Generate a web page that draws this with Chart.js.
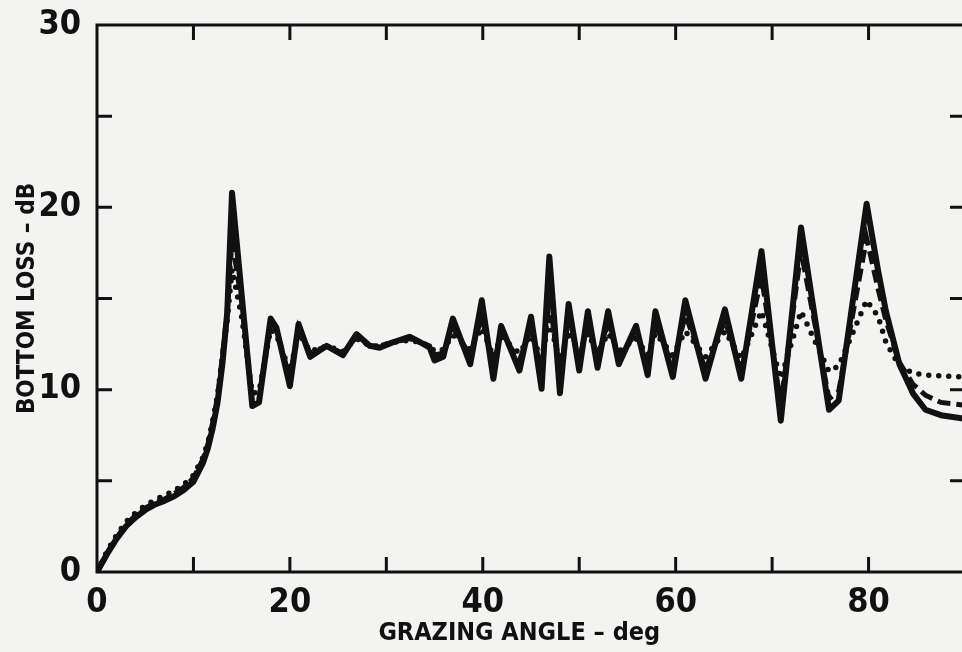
<!DOCTYPE html>
<html>
<head>
<meta charset="utf-8">
<script src="https://cdn.jsdelivr.net/npm/chart.js@4/dist/chart.umd.min.js"></script>
<style>
html,body{margin:0;padding:0;overflow:hidden;background:#f3f3f1;}
#wrap{position:absolute;left:0;top:0;width:980px;height:652px;}
</style>
</head>
<body>
<div id="wrap"><canvas id="c" width="980" height="652"></canvas></div>
<script>
// Grazing angle (deg) sample points shared by the three curves
const angle = [0, 1, 2, 3, 4, 5, 6, 7, 8, 9, 10, 11, 11.5, 12, 12.5, 13, 13.5, 14, 15, 16.1, 16.8, 18, 18.6, 20, 20.9, 22.1, 23.8, 25.5, 26.9, 28.3, 29.3, 30.7, 32.4, 33.5, 34.5, 35.0, 35.9, 36.9, 38.7, 39.9, 41.1, 41.9, 43.8, 45.0, 46.1, 46.9, 48.0, 48.9, 50.0, 50.9, 51.9, 53.0, 54.1, 55.9, 57.1, 57.9, 59.7, 61.0, 63.1, 65.1, 66.8, 68.9, 70.9, 73.0, 75.9, 76.9, 79.8, 81.0, 81.8, 83.2, 84.6, 85.9, 87.5, 90];

// Bottom loss (dB) - solid curve
const lossSolid = [0, 0.95, 1.8, 2.5, 3.0, 3.4, 3.7, 3.9, 4.15, 4.5, 4.95, 6.0, 6.8, 7.9, 9.3, 11.4, 14.2, 20.8, 15.2, 9.1, 9.3, 13.9, 13.4, 10.2, 13.6, 11.8, 12.4, 11.9, 13.05, 12.4, 12.3, 12.6, 12.9, 12.6, 12.3, 11.6, 11.8, 13.9, 11.4, 14.9, 10.6, 13.5, 11.05, 14.0, 10.05, 17.3, 9.8, 14.7, 11.05, 14.3, 11.2, 14.3, 11.4, 13.5, 10.8, 14.3, 10.7, 14.9, 10.6, 14.4, 10.6, 17.6, 8.3, 18.9, 8.9, 9.4, 20.2, 16.5, 14.3, 11.4, 9.8, 8.9, 8.6, 8.4];

// Bottom loss (dB) - dashed curve
const lossDashed = [0, 1.0, 1.85, 2.6, 3.1, 3.5, 3.8, 4.0, 4.3, 4.65, 5.15, 6.2, 7.0, 8.2, 9.6, 11.8, 14.3, 18.2, 14.8, 9.3, 9.5, 13.7, 13.3, 10.6, 13.4, 12.0, 12.4, 12.0, 12.9, 12.4, 12.4, 12.6, 12.8, 12.6, 12.4, 11.9, 12.0, 13.4, 11.9, 14.0, 11.3, 13.1, 11.6, 13.4, 11.0, 15.0, 10.8, 13.9, 11.6, 13.7, 11.7, 13.6, 11.8, 13.1, 11.4, 13.6, 11.3, 14.1, 11.1, 13.8, 11.0, 16.2, 9.2, 17.6, 9.5, 9.9, 18.3, 15.5, 13.8, 11.5, 10.3, 9.7, 9.3, 9.15];

// Bottom loss (dB) - dotted curve
const lossDotted = [0, 1.1, 2.0, 2.75, 3.25, 3.65, 3.95, 4.2, 4.45, 4.8, 5.3, 6.3, 7.1, 8.3, 9.7, 11.8, 13.8, 16.6, 14.0, 9.8, 9.9, 13.3, 13.0, 11.0, 13.1, 12.1, 12.4, 12.1, 12.8, 12.4, 12.4, 12.6, 12.7, 12.6, 12.4, 12.1, 12.2, 13.0, 12.2, 13.4, 11.8, 12.9, 12.0, 13.0, 11.7, 13.8, 11.5, 13.2, 12.0, 13.1, 12.0, 13.1, 12.1, 12.8, 11.9, 13.1, 11.9, 13.2, 11.8, 13.2, 11.7, 14.3, 10.6, 14.3, 11.0, 11.3, 14.9, 14.0, 12.6, 11.3, 10.9, 10.8, 10.75, 10.7];

// Axis labels
const xLabelValues = [0, 20, 40, 60, 80];
const yLabelValues = [0, 10, 20, 30];
const xTitle = 'GRAZING ANGLE – deg';
const yTitle = 'BOTTOM LOSS – dB';

const INK = '#111111';
const FONT = "'DejaVu Sans Condensed', 'Liberation Sans Narrow', sans-serif";

const pts = arr => angle.map((a, i) => ({x: a, y: arr[i]}));

const frame = {
  id: 'frame',
  afterDatasetsDraw(chart) {
    const {ctx, chartArea: a, scales: {x, y}} = chart;
    ctx.save();
    ctx.strokeStyle = INK;
    ctx.lineWidth = 3;
    ctx.lineCap = 'butt';
    ctx.strokeRect(a.left, a.top, a.right - a.left, a.bottom - a.top);
    const TL = 15;
    ctx.beginPath();
    x.ticks.forEach(t => {
      if (t.value <= x.min || t.value >= x.max) return;
      const px = x.getPixelForValue(t.value);
      ctx.moveTo(px, a.bottom); ctx.lineTo(px, a.bottom - TL);
      ctx.moveTo(px, a.top); ctx.lineTo(px, a.top + TL);
    });
    y.ticks.forEach(t => {
      if (t.value <= y.min || t.value >= y.max) return;
      const py = y.getPixelForValue(t.value);
      ctx.moveTo(a.left, py); ctx.lineTo(a.left + TL, py);
      ctx.moveTo(a.right, py); ctx.lineTo(a.right - TL, py);
    });
    ctx.stroke();
    ctx.restore();
  }
};

new Chart(document.getElementById('c'), {
  type: 'line',
  data: {
    datasets: [
      {label: 'dotted', data: pts(lossDotted), borderColor: INK, borderWidth: 5.5, borderDash: [0, 10], borderCapStyle: 'round', pointRadius: 0, tension: 0, fill: false},
      {label: 'dashed', data: pts(lossDashed), borderColor: INK, borderWidth: 5, borderDash: [13, 6], borderCapStyle: 'butt', pointRadius: 0, tension: 0, fill: false},
      {label: 'solid', data: pts(lossSolid), borderColor: INK, borderWidth: 6, borderJoinStyle: 'round', borderCapStyle: 'round', pointRadius: 0, tension: 0, fill: false}
    ]
  },
  options: {
    responsive: false,
    animation: false,
    devicePixelRatio: 1,
    layout: {padding: {top: 23, right: 15, left: 0, bottom: 0}},
    plugins: {legend: {display: false}, tooltip: {enabled: false}},
    scales: {
      x: {
        type: 'linear', min: 0, max: 90,
        grid: {display: false}, border: {display: false},
        ticks: {
          stepSize: 10, autoSkip: false, maxRotation: 0, padding: 6, color: INK,
          font: {family: FONT, weight: 'bold', size: 34, lineHeight: 1},
          callback: v => xLabelValues.includes(v) ? String(v) : ''
        },
        title: {display: true, text: xTitle + '\u00a0\u00a0\u00a0', color: INK, font: {family: FONT, weight: 'bold', size: 25, lineHeight: 1.2}, padding: {top: 0, bottom: 4}},
        afterFit: s => { s.height = 80; }
      },
      y: {
        type: 'linear', min: 0, max: 30,
        grid: {display: false}, border: {display: false},
        ticks: {
          stepSize: 5, autoSkip: false, padding: 8, color: INK,
          font: {family: FONT, weight: 'bold', size: 34, lineHeight: 1},
          callback: v => yLabelValues.includes(v) ? String(v) : ''
        },
        title: {display: true, text: yTitle, color: INK, font: {family: FONT, weight: 'bold', size: 24, lineHeight: 1.2}, padding: {top: 13, bottom: 0}},
        afterFit: s => { s.width = 97; }
      }
    }
  },
  plugins: [frame]
});
</script>
</body>
</html>
